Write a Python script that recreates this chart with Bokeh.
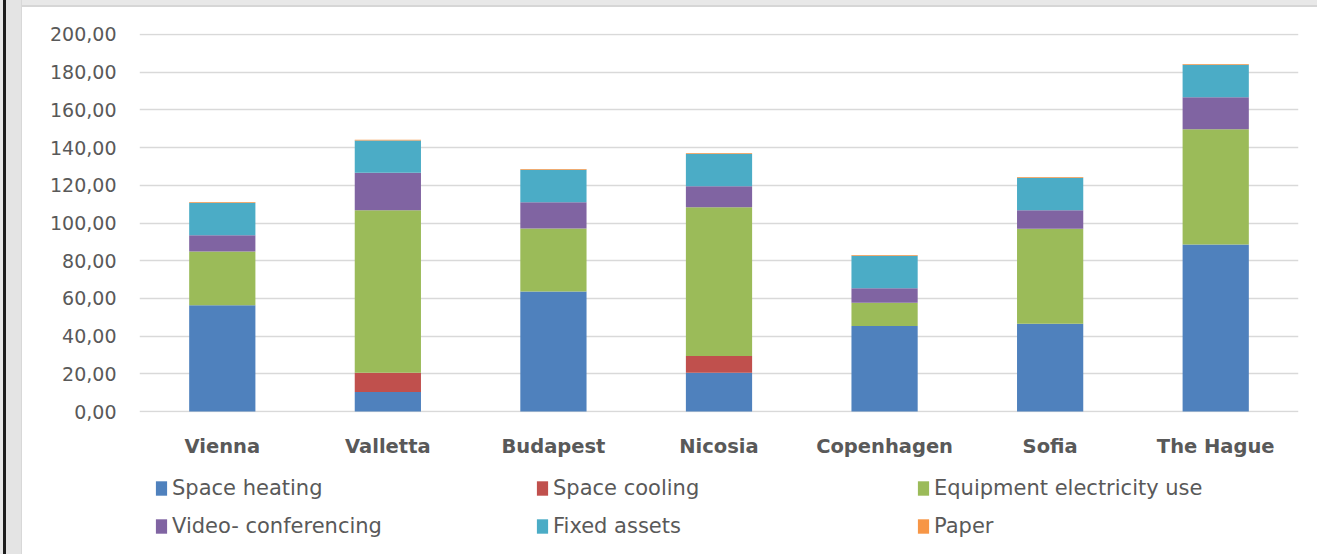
from bokeh.plotting import figure
from bokeh.models import (ColumnDataSource, FactorRange, Range1d, FixedTicker,
                          CustomJSTickFormatter, Legend, LegendItem, Div)
from bokeh.layouts import row, column
from bokeh.embed import file_html
from bokeh.resources import INLINE

# Emissions per city, split by source
cities = ["Vienna", "Valletta", "Budapest", "Nicosia", "Copenhagen", "Sofia", "The Hague"]
space_heating = [56.4, 10.4, 63.7, 20.5, 45.3, 46.5, 88.6]
space_cooling = [0.0, 10.1, 0.0, 8.9, 0.0, 0.0, 0.0]
equipment_electricity = [28.5, 86.3, 33.4, 79.0, 12.4, 50.4, 61.2]
video_conferencing = [8.6, 19.8, 13.9, 11.1, 7.7, 9.9, 16.9]
fixed_assets = [17.2, 17.2, 17.2, 17.2, 17.2, 17.2, 17.2]
paper = [0.4, 0.4, 0.4, 0.4, 0.4, 0.4, 0.4]

series_names = ["Space heating", "Space cooling", "Equipment electricity use",
                "Video- conferencing", "Fixed assets", "Paper"]
series_keys = ["heating", "cooling", "equipment", "video", "fixed", "paper"]
colors = ["#4f81bd", "#c0504d", "#9bbb59", "#8064a2", "#4bacc6", "#f79646"]
y_ticks = [0, 20, 40, 60, 80, 100, 120, 140, 160, 180, 200]

source = ColumnDataSource(dict(
    city=cities,
    heating=space_heating,
    cooling=space_cooling,
    equipment=equipment_electricity,
    video=video_conferencing,
    fixed=fixed_assets,
    paper=paper,
))

FONT = "DejaVu Sans"
TEXT = "#595959"

# --- stacked bar chart -------------------------------------------------------
p = figure(x_range=FactorRange(*cities, range_padding=0),
           y_range=Range1d(-0.53, 200.53),
           width=1295, height=463,
           min_border_left=117, min_border_right=19,
           min_border_top=26, min_border_bottom=58,
           output_backend="svg", toolbar_location=None,
           background_fill_color="white", border_fill_color="white")
p.outline_line_color = None

p.vbar_stack(series_keys, x="city", width=0.4, source=source,
             color=colors, line_color=None)

p.yaxis.ticker = FixedTicker(ticks=y_ticks)
p.yaxis.formatter = CustomJSTickFormatter(code="return tick.toFixed(2).replace('.', ',');")
p.yaxis.axis_line_color = None
p.yaxis.major_tick_line_color = None
p.yaxis.minor_tick_line_color = None
p.yaxis.major_tick_in = 0
p.yaxis.major_tick_out = 0
p.yaxis.major_label_standoff = 23
p.yaxis.major_label_text_font = FONT
p.yaxis.major_label_text_font_size = "19px"
p.yaxis.major_label_text_color = TEXT

p.xaxis.axis_line_color = None
p.xaxis.major_tick_line_color = None
p.xaxis.minor_tick_line_color = None
p.xaxis.major_tick_in = 0
p.xaxis.major_tick_out = 0
p.xaxis.major_label_standoff = 22
p.xaxis.major_label_text_font = FONT
p.xaxis.major_label_text_font_style = "bold"
p.xaxis.major_label_text_font_size = "19.5px"
p.xaxis.major_label_text_color = TEXT

p.xgrid.grid_line_color = None
p.ygrid.ticker = FixedTicker(ticks=y_ticks)
p.ygrid.grid_line_color = "#d9d9d9"
p.ygrid.grid_line_width = 1.5

# --- legend strip: two rows of three ----------------------------------------
lg = figure(x_range=Range1d(0, 1), y_range=Range1d(0, 1),
            width=1295, height=84,
            min_border_left=0, min_border_right=0,
            min_border_top=0, min_border_bottom=0,
            output_backend="svg", toolbar_location=None,
            background_fill_color="white", border_fill_color="white")
lg.outline_line_color = None
lg.axis.visible = False
lg.grid.visible = False

# key-only renderers (NaN data: nothing is plotted, only the legend swatch)
nan = float("nan")
swatches = [lg.vbar(x=[nan], top=[nan], width=0.1, color=c, line_color=None) for c in colors]
items = [LegendItem(label=name, renderers=[r]) for name, r in zip(series_names, swatches)]
legend = Legend(items=items, orientation="horizontal", ncols=3,
                glyph_width=14, glyph_height=18, label_standoff=4,
                label_width=349, label_height=24, spacing=14,
                label_text_font=FONT, label_text_font_size="21px",
                label_text_color=TEXT,
                border_line_color=None, background_fill_alpha=0,
                padding=0, margin=0, location=(15, 16))
lg.add_layout(legend)

# --- surrounding frame -------------------------------------------------------
left = Div(width=22, height=554, margin=0, styles={
    "background": "linear-gradient(to right, #e9e9e9 0px, #e9e9e9 3px, #1e1e1e 3px, "
                  "#1e1e1e 6px, #e4e4e4 6px, #e4e4e4 21px, #d8d8d8 21px)"})
top = Div(width=1295, height=7, margin=0, styles={
    "background": "linear-gradient(to bottom, #e8e8e8 0px, #e8e8e8 5px, #d6d6d6 5px)"})
layout = row(left, column(top, p, lg, spacing=0), spacing=0)

open("out.html", "w").write(file_html(layout, INLINE))
